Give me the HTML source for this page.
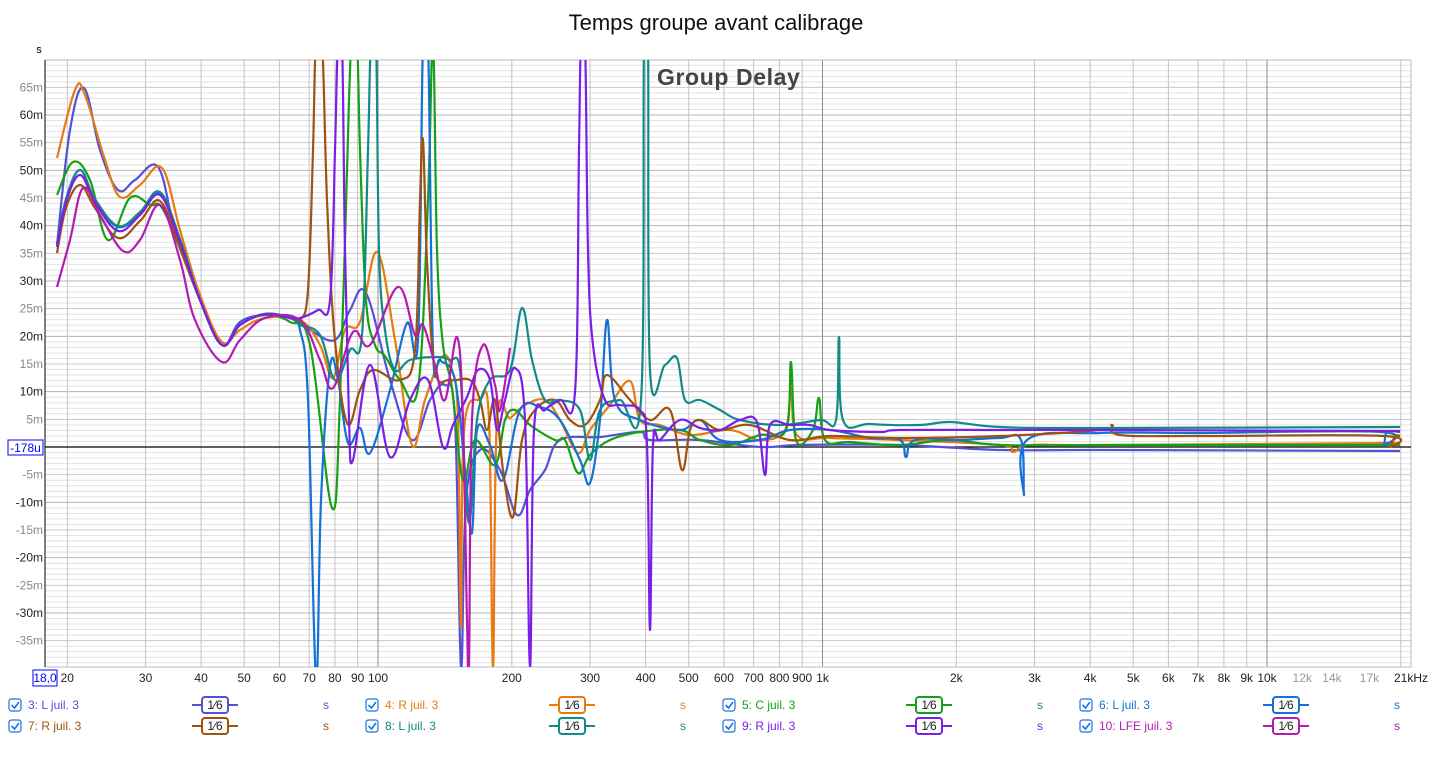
<!DOCTYPE html>
<html><head><meta charset="utf-8"><style>
html,body{margin:0;padding:0;background:#fff;}
svg{display:block;font-family:"Liberation Sans",sans-serif;}
</style></head><body>
<svg id="s" width="1433" height="759" xmlns="http://www.w3.org/2000/svg">
<defs><clipPath id="c"><rect x="45" y="60" width="1367" height="607"/></clipPath></defs>
<rect width="1433" height="759" fill="#fff"/>
<text x="716" y="30" font-size="22" text-anchor="middle" fill="#111">Temps groupe avant calibrage</text>
<g id="grid"></g>
<g id="series" clip-path="url(#c)" fill="none" stroke-width="2.2" stroke-linejoin="round"></g>
<text x="657" y="85" font-size="23" font-weight="bold" letter-spacing="0.6" fill="#444">Group Delay</text>
<g id="lab" font-size="12"></g>
<g id="leg" font-size="12"></g>
</svg>
<script>
const NS="http://www.w3.org/2000/svg";
function el(p,t,a,txt){const e=document.createElementNS(NS,t);for(const k in a)e.setAttribute(k,a[k]);if(txt!==undefined)e.textContent=txt;p.appendChild(e);return e;}
const X=f=>378+444.5*Math.log10(f/100), Y=m=>447-m*5.533;
const g=document.getElementById('grid'),lab=document.getElementById('lab');
for(let m=-39;m<=70;m++){const y=Y(m);if(y<60||y>667)continue;
 el(g,'line',{x1:45,x2:1411,y1:y,y2:y,stroke:(m%10==0)?'#b4b4b4':((m%5==0)?'#c8c8c8':'#e2e2e2'),'stroke-width':1});}
for(let d=10;d<=10000;d*=10)for(let n=1;n<10;n++){const f=n*d;if(f<18||f>21500)continue;const x=X(f);
 el(g,'line',{x1:x,x2:x,y1:60,y2:667,stroke:n==1?'#8c8c8c':'#c4c4c4','stroke-width':1});}
el(g,'line',{x1:1411,x2:1411,y1:60,y2:667,stroke:'#bbb'});
el(g,'line',{x1:45,x2:1411,y1:60,y2:60,stroke:'#bbb'});
el(g,'line',{x1:45,x2:1411,y1:667,y2:667,stroke:'#bbb'});
el(g,'line',{x1:45,x2:45,y1:60,y2:667,stroke:'#000'});
el(g,'line',{x1:45,x2:1411,y1:447,y2:447,stroke:'#000','stroke-width':1.3});
el(lab,'text',{x:39,y:53,'text-anchor':'middle','font-size':11},'s');
for(let m=-35;m<=65;m+=5){if(m==0)continue;el(lab,'text',{x:43,y:Y(m)+4,'text-anchor':'end',fill:(m%10==0)?'#222':'#888'},m+'m');}
el(lab,'rect',{x:8,y:440,width:35,height:15,fill:'#fff',stroke:'#00f'});
el(lab,'text',{x:25.5,y:452,'text-anchor':'middle',fill:'#00f'},'-178u');
el(lab,'rect',{x:33,y:670,width:24,height:16,fill:'#fff',stroke:'#00f'});
el(lab,'text',{x:45,y:682,'text-anchor':'middle',fill:'#00f'},'18,0');
const xl=[[20,'20'],[30,'30'],[40,'40'],[50,'50'],[60,'60'],[70,'70'],[80,'80'],[90,'90'],[100,'100'],[200,'200'],[300,'300'],[400,'400'],[500,'500'],[600,'600'],[700,'700'],[800,'800'],[900,'900'],[1000,'1k'],[2000,'2k'],[3000,'3k'],[4000,'4k'],[5000,'5k'],[6000,'6k'],[7000,'7k'],[8000,'8k'],[9000,'9k'],[10000,'10k'],[12000,'12k'],[14000,'14k'],[17000,'17k']];
for(const [f,t] of xl)el(lab,'text',{x:X(f),y:682,'text-anchor':'middle',fill:(f==12000||f==14000||f==17000)?'#999':'#222'},t);
el(lab,'text',{x:1411,y:682,'text-anchor':'middle',fill:'#222'},'21kHz');
const low=(dy,a,b)=>[[57,245+dy],[66,200+dy],[80,172+dy+a],[95,200+dy],[118,227+dy+b],[140,213+dy],[160,193+dy],[180,240+dy],[200,300],[222,345],[240,325],[265,314],[290,318]];
const S={
'#5252d6':[[57,245],[70,130],[84,88],[100,150],[118,190],[135,180],[158,167],[175,230],[200,300],[222,345],[240,322],[265,315],[290,318],[310,330],[335,340],[350,310],[366,293],[390,380],[412,440],[430,400],[445,385],[455,420],[461,667],[466,500],[480,450],[500,470],[517,515],[530,490],[545,470],[560,440],[600,437],[640,432],[650,440],[700,440],[760,447],[800,445],[900,445],[1000,450],[1100,450],[1400,451]],
'#e87a12':[[57,158],[75,90],[85,95],[105,160],[120,197],[140,185],[162,168],[180,230],[200,295],[222,342],[240,330],[265,318],[300,320],[320,345],[333,378],[345,330],[360,322],[377,252],[395,340],[412,445],[425,400],[442,357],[452,370],[458,420],[461,628],[464,430],[480,400],[489,420],[493,667],[497,420],[510,418],[525,405],[545,400],[560,420],[578,453],[590,430],[610,405],[630,381],[640,420],[660,425],[690,435],[730,430],[760,440],[785,430],[791,388],[797,435],[830,438],[900,440],[1000,445],[1013,452],[1030,445],[1100,445],[1400,443]],
'#16a016':[[57,195],[73,162],[90,180],[108,240],[130,198],[150,205],[165,213],[200,300],[222,345],[240,325],[265,315],[290,322],[310,345],[332,508],[340,400],[349,100],[352,40],[357,40],[360,150],[366,300],[375,345],[385,356],[400,380],[418,388],[428,200],[433,40],[437,250],[443,345],[452,388],[463,480],[475,440],[495,465],[505,420],[515,410],[530,425],[555,440],[565,440],[578,473],[590,455],[610,440],[640,432],[680,430],[700,440],[730,445],[760,435],[786,430],[791,362],[796,440],[813,430],[819,398],[825,440],[850,442],[900,445],[950,440],[1000,445],[1100,445],[1400,445]],
'#1570d8':[...low(0,-2,0),[300,330],[308,400],[316,680],[321,500],[330,367],[338,380],[348,443],[360,428],[370,453],[390,390],[407,323],[418,340],[423,40],[428,40],[433,350],[440,360],[455,380],[465,470],[472,533],[477,430],[490,445],[503,480],[520,410],[540,407],[560,420],[580,460],[590,483],[600,420],[607,320],[615,400],[640,420],[680,430],[700,420],[720,440],[760,440],[790,430],[830,430],[870,438],[900,440],[906,457],[915,440],[960,440],[1000,438],[1021,440],[1024,495],[1027,440],[1100,433],[1200,433],[1381,432],[1384,445],[1387,432],[1400,432]],
'#a0520f':[...low(8,5,3),[300,320],[308,290],[313,150],[316,40],[322,40],[327,200],[334,330],[347,423],[360,390],[373,370],[400,380],[415,350],[420,200],[423,140],[427,260],[435,370],[450,380],[470,380],[480,400],[487,430],[495,400],[503,470],[513,517],[522,440],[535,410],[555,400],[570,420],[585,425],[600,400],[607,375],[630,400],[650,420],[670,410],[682,470],[690,430],[700,420],[720,430],[750,425],[790,440],[830,436],[900,438],[1000,436],[1100,430],[1112,425],[1120,435],[1200,436],[1385,436],[1390,447],[1395,436],[1400,436]],
'#118b87':[...low(-1,-1,0),[300,325],[320,335],[335,380],[350,350],[362,335],[368,150],[371,40],[376,40],[379,250],[385,330],[395,370],[410,360],[437,357],[450,360],[460,370],[465,480],[470,520],[477,420],[490,380],[510,370],[522,308],[532,360],[545,400],[560,400],[580,410],[590,460],[600,410],[620,400],[641,400],[644,40],[648,40],[650,370],[665,365],[677,358],[685,400],[700,400],[720,410],[740,420],[780,425],[820,420],[836,420],[839,337],[843,420],[870,424],[920,425],[950,422],[1000,427],[1100,428],[1400,427]],
'#7a1ee8':[...low(2,1,2),[300,318],[318,310],[330,300],[335,150],[338,40],[342,40],[345,250],[349,420],[353,460],[370,365],[390,457],[410,400],[428,380],[443,447],[453,425],[467,397],[478,370],[490,380],[497,430],[505,400],[515,368],[525,420],[530,667],[534,430],[545,410],[560,400],[575,392],[579,150],[581,40],[585,40],[588,250],[593,345],[605,400],[620,405],[640,410],[647,445],[650,630],[653,445],[660,440],[680,420],[700,428],[720,430],[740,420],[757,422],[765,475],[770,425],[790,425],[810,425],[830,430],[880,432],[900,430],[1000,430],[1100,430],[1400,431]],
'#b41ab4':[[57,287],[70,240],[83,188],[100,215],[123,251],[140,240],[160,205],[180,260],[195,320],[222,362],[240,340],[265,318],[300,320],[320,360],[333,388],[353,332],[370,345],[398,287],[415,335],[423,325],[435,365],[445,400],[457,337],[463,420],[467,620],[469,667],[472,420],[483,345],[495,385],[500,410],[510,348]]
};
const sg=document.getElementById('series');
function mkpath(p){let d='M'+p[0][0]+','+p[0][1];
 for(let i=0;i<p.length-1;i++){const p0=p[Math.max(0,i-1)],p1=p[i],p2=p[i+1],p3=p[Math.min(p.length-1,i+2)];const t=0.18;
  const c1=[p1[0]+(p2[0]-p0[0])*t,p1[1]+(p2[1]-p0[1])*t],c2=[p2[0]-(p3[0]-p1[0])*t,p2[1]-(p3[1]-p1[1])*t];
  d+='C'+c1[0].toFixed(1)+','+c1[1].toFixed(1)+' '+c2[0].toFixed(1)+','+c2[1].toFixed(1)+' '+p2[0]+','+p2[1];}
 return d;}
for(const c in S)el(sg,'path',{d:mkpath(S[c]),stroke:c});
const leg=document.getElementById('leg');
const L=[['3: L juil. 3','#5252d6'],['4: R juil. 3','#e87a12'],['5: C juil. 3','#16a016'],['6: L juil. 3','#1570d8'],
['7: R juil. 3','#a0520f'],['8: L juil. 3','#118b87'],['9: R juil. 3','#7a1ee8'],['10: LFE juil. 3','#b41ab4']];
const cx=[9,366,723,1080];
L.forEach(function(it,i){const x=cx[i%4],y=i<4?705:726;
 el(leg,'rect',{x:x,y:y-6,width:12,height:12,rx:2.5,fill:'#fff',stroke:'#1a73e8','stroke-width':1.2});
 el(leg,'path',{d:'M'+(x+2.5)+','+y+' l3,3 l4.5,-6',fill:'none',stroke:'#1a73e8','stroke-width':1.6});
 el(leg,'text',{x:x+19,y:y+4,fill:it[1]},it[0]);
 el(leg,'line',{x1:x+183,x2:x+229,y1:y,y2:y,stroke:it[1],'stroke-width':2});
 el(leg,'rect',{x:x+193,y:y-8,width:26,height:16,rx:3,fill:'#fff',stroke:it[1],'stroke-width':2});
 el(leg,'text',{x:x+206,y:y+4,'text-anchor':'middle',fill:'#222','font-size':12},'1\u20446');
 el(leg,'text',{x:x+314,y:y+4,fill:it[1]},'s');
});
</script>
</body></html>
